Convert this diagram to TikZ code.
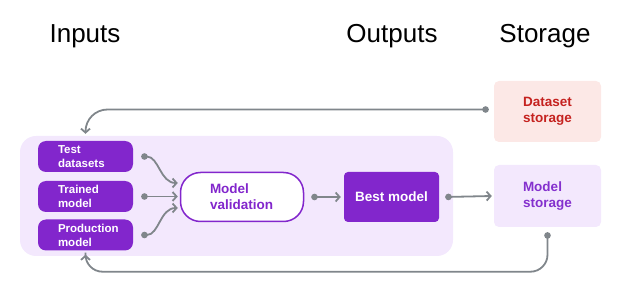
\documentclass[tikz,border=0pt]{standalone}
\usepackage{fontspec}
\setmainfont{Liberation Sans}
\usetikzlibrary{arrows.meta}
\definecolor{panelc}{HTML}{F3E8FD}
\definecolor{purp}{RGB}{130,38,204}
\definecolor{lpurp}{HTML}{8430CE}
\definecolor{pinkc}{HTML}{FCE8E6}
\definecolor{redc}{HTML}{C5221F}
\definecolor{grayc}{HTML}{80868B}
\begin{document}
\begin{tikzpicture}[x=1pt,y=-1pt,
  header/.style={font=\fontsize{26}{30}\selectfont, text=black, anchor=base},
  inbox/.style={fill=purp, rounded corners=8pt, minimum width=95pt, minimum height=31pt,
    text width=55pt, inner xsep=0pt, inner ysep=0pt, align=left, text=white,
    font=\bfseries\fontsize{11.5}{14}\selectfont},
  valbox/.style={draw=purp, line width=1.5pt, fill=white, rounded corners=20pt,
    minimum width=123pt, minimum height=49pt, text width=64pt, inner xsep=0pt,
    align=left, text=purp, font=\bfseries\fontsize{13.5}{16}\selectfont},
  bestbox/.style={fill=purp, rounded corners=4pt, minimum width=95pt, minimum height=50pt,
    inner sep=0pt, text=white, font=\bfseries\fontsize{13.5}{16}\selectfont},
  storebox/.style={rounded corners=5pt, minimum width=107pt, minimum height=61pt,
    text width=49pt, inner xsep=0pt, align=left, font=\bfseries\fontsize{13.5}{16}\selectfont},
  conn/.style={draw=grayc, line width=1.8pt, {Circle[length=6.5pt]}-{Straight Barb[length=4pt,width=9pt]}},
]
\useasboundingbox (0,0) rectangle (622,291);
% headers
\node[header] (hin) at (85,43) {Inputs};
\node[header] (hout) at (392,43) {Outputs};
\node[header] (hst) at (545,43) {Storage};
% panel
\node[fill=panelc, rounded corners=16pt, minimum width=433pt, minimum height=120pt, inner sep=0pt] (panel) at (236.5,196) {};
% inputs
\node[inbox] (test) at (85.5,156.5) {Test\\datasets};
\node[inbox] (trained) at (85.5,196.5) {Trained\\model};
\node[inbox] (prod) at (85.5,235) {Production\\model};
% validation and best
\node[valbox] (val) at (242,197) {Model\\validation};
\node[bestbox] (best) at (391.5,197) {Best model};
% storage
\node[storebox, fill=pinkc, text=redc] (ds) at (547.5,111.5) {Dataset\\storage};
\node[storebox, fill=panelc, text=lpurp, minimum height=62pt] (ms) at (547.5,196) {Model\\storage};
% connectors
\draw[conn] ([xshift=8pt]test.east) to[out=0,in=180] ([xshift=-2pt,yshift=14pt]val.west);
\draw[conn] ([xshift=8pt]trained.east) -- ([xshift=-2pt]val.west |- trained.east);
\draw[conn] ([xshift=8pt]prod.east) to[out=0,in=180] ([xshift=-2pt,yshift=-11pt]val.west);
\draw[conn] ([xshift=7pt]val.east) -- ([xshift=-3pt]best.west);
\draw[conn] ([xshift=6pt]best.east) -- ([xshift=-2pt]ms.west);
\coordinate (dsdot) at ([xshift=-5pt,yshift=2pt]ds.west);
\coordinate (tdin) at ([yshift=7pt]test.north);
\draw[conn, rounded corners=22pt] (dsdot) -| (tdin);
\coordinate (msdot) at ([yshift=-5pt]ms.south);
\coordinate (pdin) at ([yshift=-4pt]prod.south);
\coordinate (bl) at ([yshift=-21pt]prod.south);
\draw[conn, rounded corners=17pt] (msdot) |- (bl) -- (pdin);
\end{tikzpicture}
\end{document}
